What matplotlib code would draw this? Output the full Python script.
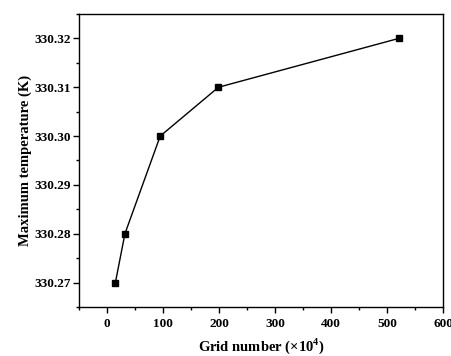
import matplotlib.pyplot as plt
from matplotlib.ticker import MultipleLocator

# Grid independence data
grid = [15, 32, 95, 199, 521]
tmax = [330.27, 330.28, 330.30, 330.31, 330.32]

plt.rcParams['font.family'] = ['Liberation Serif', 'DejaVu Serif']
plt.rcParams['font.weight'] = 'bold'
plt.rcParams['mathtext.fontset'] = 'custom'
plt.rcParams['mathtext.bf'] = 'Liberation Serif:bold'
plt.rcParams['mathtext.rm'] = 'Liberation Serif:bold'

fig = plt.figure(figsize=(4.51, 3.56), dpi=100)
ax = fig.add_axes([79/451, 1 - 307/356, (443-79)/451, (307-14)/356])

ax.plot(grid, tmax, color='black', linewidth=1, marker='s', markersize=4.5)

ax.set_xlim(-50, 600)
ax.set_ylim(330.265, 330.325)
ax.xaxis.set_major_locator(MultipleLocator(100))
ax.xaxis.set_minor_locator(MultipleLocator(50))
ax.yaxis.set_major_locator(MultipleLocator(0.01))
ax.yaxis.set_minor_locator(MultipleLocator(0.005))
ax.yaxis.set_major_formatter(plt.FormatStrFormatter('%.2f'))
ax.tick_params(which='major', direction='out', length=4, width=1, labelsize=9.5)
ax.tick_params(which='minor', direction='out', length=2.5, width=1)
ax.tick_params(axis='y', which='major', pad=1.5)
ax.tick_params(axis='x', which='major', pad=4)
for lab in ax.get_xticklabels() + ax.get_yticklabels():
    lab.set_fontweight('bold')
for s in ax.spines.values():
    s.set_linewidth(1)

ax.set_xlabel('Grid number (×10$^\\mathbf{4}$)', fontsize=10.5, fontweight='bold', labelpad=4.5)
ax.set_ylabel('Maximum temperature (K)', fontsize=10.5, fontweight='bold')
ax.yaxis.set_label_coords(-0.13, 0.5)

fig.savefig('out.png', dpi=100)
